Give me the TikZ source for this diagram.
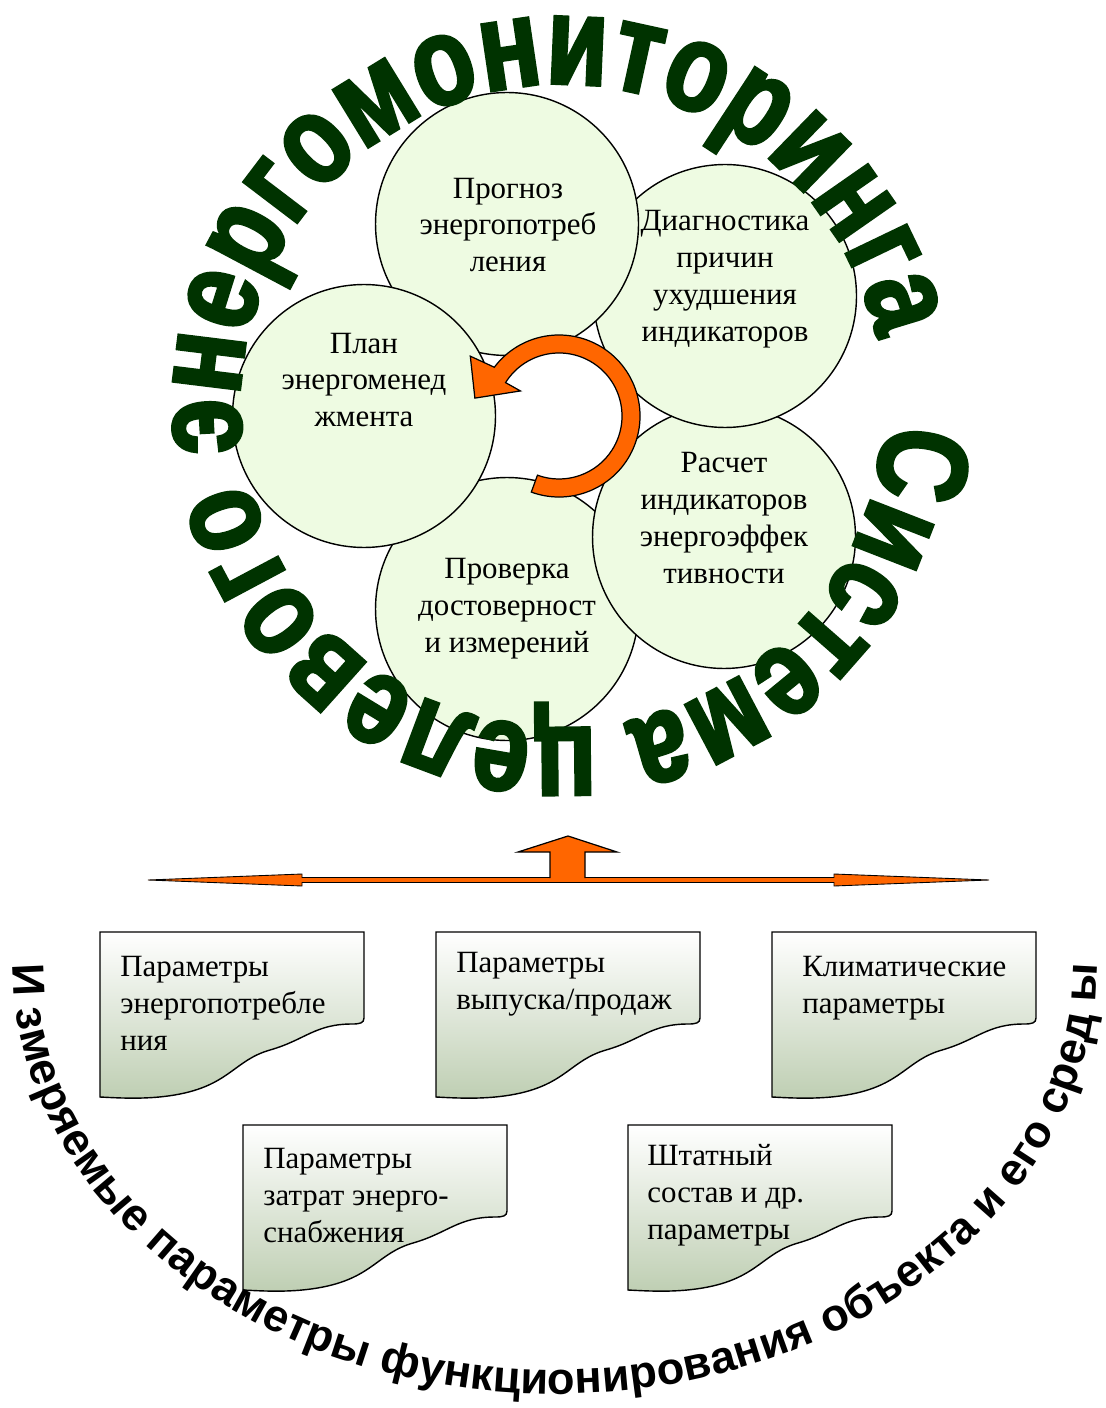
\documentclass[tikz,border=0pt]{standalone}
\usepackage{fontspec}
\setmainfont{Liberation Serif}
\newfontfamily\ringfont[FakeStretch=0.79, FakeBold=2.5]{Liberation Sans Bold}
\newfontfamily\arcfont{Liberation Sans}
\usepackage{tikz}
\usetikzlibrary{positioning}
\usetikzlibrary{calc,decorations.text}
\definecolor{cycgreen}{RGB}{238,251,226}
\definecolor{ringgreen}{RGB}{0,51,0}
\definecolor{arroworange}{RGB}{255,102,0}
\definecolor{docgreen}{RGB}{190,206,178}
\tikzstyle{cyc} = [circle, draw=black, fill=cycgreen, line width=0.8pt, minimum size=5.26cm, inner sep=0pt]
\tikzstyle{cyctext} = [align=center, inner sep=0pt, font=\fontsize{17.6}{21}\selectfont]
\tikzstyle{doctext} = [align=left, anchor=north west, inner sep=0pt, font=\fontsize{17.6}{21}\selectfont]
\tikzstyle{doc} = [draw=black, line width=0.8pt, top color=white, bottom color=docgreen]
\tikzstyle{blockarrow} = [fill=arroworange, draw=black, line width=0.7pt, line join=miter]
% document sheet with torn lower edge, #1 = left, #2 = top
\newcommand{\docshape}[2]{%
  \draw[doc, shift={(#1,-#2)}] (0,0) -- (264,0) -- (264,-86)
    .. controls (264,-91) and (260,-92) .. (252,-92)
    .. controls (215,-92) and (205,-108) .. (170,-118)
    .. controls (135,-128) and (130,-152) .. (80,-162)
    .. controls (50,-168) and (20,-166) .. (0,-165) -- cycle;}

\begin{document}
\begin{tikzpicture}[x=0.02cm, y=0.02cm]
      \useasboundingbox (0,0) rectangle (1105,-1408);
      \fill[white] (0,0) rectangle (1105,-1408);
      %%%%%%%%%%%%%%%%%%%%%%%%%%%%%%%%%%%%%%%
      % cycle of circles
      \draw (507,-609) node (proverka) [cyc] {};
      \draw (724,-537) node (raschet) [cyc] {};
      \draw (725,-296) node (diagn) [cyc] {};
      \draw (507,-224) node (prognoz) [cyc] {};
      \draw (364,-416) node (plan) [cyc] {};
      \draw (507,-609) node (proverkatxt) [cyctext] {Проверка\\достоверност\\и измерений};
      \draw (724,-518) node (raschettxt) [cyctext] {Расчет\\индикаторов\\энергоэффек\\тивности};
      \draw (725,-279) node (diagntxt) [cyctext] {Диагностика\\причин\\ухудшения\\индикаторов};
      \draw (508,-225) node (prognoztxt) [cyctext] {Прогноз\\энергопотреб\\ления};
      \draw (364,-380) node (plantxt) [cyctext] {План\\энергоменед\\жмента};
      % circular arrow
      \coordinate (loop) at (559,-416);
      \filldraw[blockarrow] ($(loop)+(-110:81)$) arc[start angle=-110, end angle=143, radius=81]
        -- ($(loop)+(146:107)$) -- ($(loop)+(168:86)$) -- ($(loop)+(147:46)$)
        -- ($(loop)+(148:63)$) arc[start angle=148, end angle=-110, radius=63] -- cycle;
      % ring title
      \coordinate (ringc) at (562,-406);
      \path[decorate, decoration={text along path, text align=fit to path,
        text={|\ringfont\fontsize{72}{80}\selectfont\color{ringgreen}|Система целевого энергомониторинга}}]
        (ringc) ++(-2.9:322) arc[start angle=-2.9, end angle=-348, radius=322];
      %%%%%%%%%%%%%%%%%%%%%%%%%%%%%%%%%%%%%%%
      % arrows
      \coordinate (barL) at (148,-880);
      \coordinate (barR) at (989,-880);
      \coordinate (uptip) at (568,-836);
      \filldraw[blockarrow, line width=0.5pt] (barL) -- (302,-874) -- (302,-877.5) -- (834,-877.5)
        -- (834,-874) -- (barR) -- (834,-886) -- (834,-882.5) -- (302,-882.5) -- (302,-886) -- cycle;
      \fill[arroworange] (550,-881) -- (550,-852) -- (518,-852) -- (uptip) -- (617,-852) -- (585,-852) -- (585,-881) -- cycle;
      \draw[line width=0.7pt] (550,-878) -- (550,-852) -- (518,-852) -- (uptip) -- (617,-852) -- (585,-852) -- (585,-878);
      %%%%%%%%%%%%%%%%%%%%%%%%%%%%%%%%%%%%%%%
      % measured parameters
      \docshape{100}{932}
      \docshape{436}{932}
      \docshape{772}{932}
      \docshape{243}{1125}
      \docshape{628}{1125}
      \draw (120,-956) node (doc1) [doctext] {Параметры\\энергопотребле\\ния};
      \draw (456,-952) node (doc2) [doctext] {Параметры\\выпуска/продаж};
      \draw (802,-956) node (doc3) [doctext] {Климатические\\параметры};
      \draw (263,-1148) node (doc4) [doctext] {Параметры\\затрат энерго-\\снабжения};
      \draw (647,-1144) node (doc5) [doctext] {Штатный\\состав и др.\\параметры};
      % lower arc title
      \coordinate (arcc) at (555,-964);
      \path[decorate, decoration={text along path, text align=fit to path,
        text={|\arcfont\bfseries\fontsize{25.7}{30}\selectfont|И змеряемые параметры функционирования объекта и его сред ы}}]
        (arcc) ++(180:542 and 430) arc[start angle=180, end angle=360, x radius=542, y radius=430];
\end{tikzpicture}
\end{document}
